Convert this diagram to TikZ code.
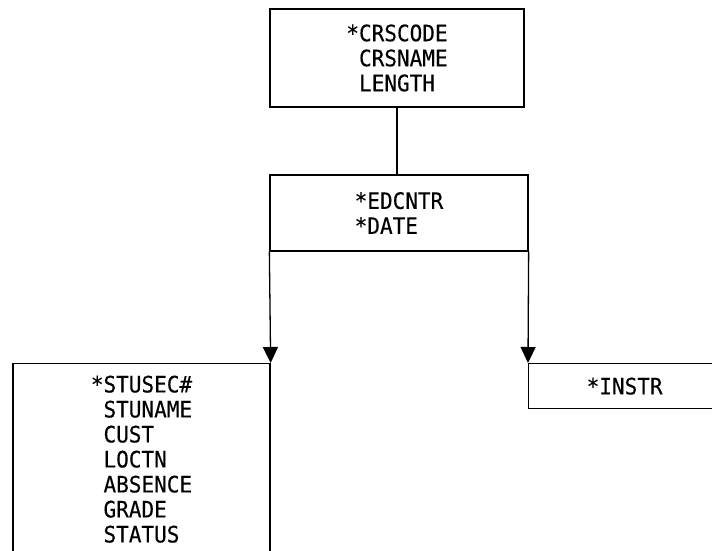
\documentclass[tikz,border=0pt]{standalone}
\usepackage{fontspec}
\setmonofont[FakeStretch=0.93,FakeBold=0.25]{DejaVu Sans Mono}
\usetikzlibrary{arrows.meta}
\tikzset{% segment boxes and their links
        seg/.style={draw, rectangle, line width=1.3pt, inner xsep=0pt, align=left,
                font=\ttfamily\fontsize{22.6}{25}\selectfont},
        link/.style={line width=1.3pt},
        child/.style={link, -{Triangle[width=15pt,length=16pt]}}
        }
\newcommand{\nokey}{\phantom{*}}

\begin{document}
\begin{tikzpicture}[x=1pt,y=-1pt]
\useasboundingbox (0,0) rectangle (712,551);
\clip (0,0) rectangle (712,551);

% root segment
\node [seg, minimum width=254pt, minimum height=98pt] (crs) at (397,58)
        {*CRSCODE\\\nokey CRSNAME\\\nokey LENGTH};
% dependent segment
\node [seg, minimum width=258pt, minimum height=76pt] (edc) at (399,213)
        {*EDCNTR\\*DATE};
% children, cut off at the page edge
\node [seg, anchor=north, minimum width=257pt, inner ysep=12pt] (stu) at (141.5,363)
        {*STUSEC\#\\\nokey STUNAME\\\nokey CUST\\\nokey LOCTN\\\nokey ABSENCE\\\nokey GRADE\\\nokey STATUS};
\node [seg, anchor=north west, minimum width=192pt, minimum height=45pt] (ins) at (528,363)
        {*INSTR};

\draw[link] (crs.south) -- (crs.south |- edc.north);
\draw[child] (edc.south west) -- (stu.north east);
\draw[child] (edc.south east) -- (ins.north west);
\end{tikzpicture}
\end{document}
